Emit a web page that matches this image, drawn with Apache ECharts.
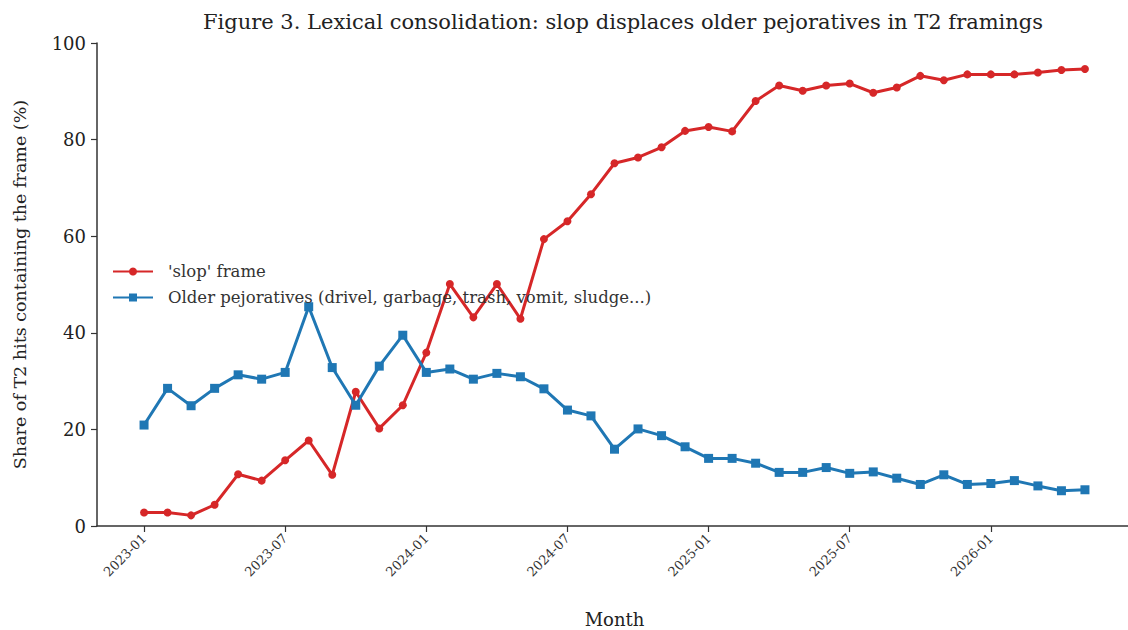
<!DOCTYPE html>
<html>
<head>
<meta charset="utf-8">
<style>
  html, body { margin: 0; padding: 0; background: #fff; }
  #chart { width: 1128px; height: 630px; }
</style>
<script src="https://cdn.jsdelivr.net/npm/echarts@6/dist/echarts.min.js"></script>
</head>
<body>
<div id="chart"></div>
<script>
const months = [
  '2023-01', '2023-02', '2023-03', '2023-04', '2023-05', '2023-06',
  '2023-07', '2023-08', '2023-09', '2023-10', '2023-11', '2023-12',
  '2024-01', '2024-02', '2024-03', '2024-04', '2024-05', '2024-06',
  '2024-07', '2024-08', '2024-09', '2024-10', '2024-11', '2024-12',
  '2025-01', '2025-02', '2025-03', '2025-04', '2025-05', '2025-06',
  '2025-07', '2025-08', '2025-09', '2025-10', '2025-11', '2025-12',
  '2026-01', '2026-02', '2026-03', '2026-04', '2026-05'
]
const slopShare = [
  2.8, 2.8, 2.2, 4.4, 10.7, 9.4, 13.6, 17.7, 10.6, 27.8, 20.2, 25.0,
  35.9, 50.1, 43.2, 50.1, 42.9, 59.4, 63.1, 68.7, 75.1, 76.3, 78.4, 81.8,
  82.6, 81.7, 88.0, 91.2, 90.1, 91.2, 91.6, 89.7, 90.8, 93.2, 92.3, 93.5,
  93.5, 93.5, 93.9, 94.4, 94.6
]
const olderShare = [
  20.9, 28.5, 24.9, 28.5, 31.3, 30.4, 31.8, 45.4, 32.8, 25.0, 33.1, 39.5,
  31.8, 32.5, 30.4, 31.6, 30.9, 28.4, 24.0, 22.8, 15.9, 20.1, 18.7, 16.4,
  14.0, 14.0, 13.0, 11.1, 11.1, 12.1, 10.9, 11.2, 9.9, 8.6, 10.6, 8.6,
  8.8, 9.4, 8.3, 7.3, 7.5
]
const tickMonths = ['2023-01', '2023-07', '2024-01', '2024-07', '2025-01', '2025-07', '2026-01']
const yTicks = [0, 20, 40, 60, 80, 100]

const serif = 'DejaVu Serif'
const axisColor = '#333'
const tickIdx = tickMonths.map(m => months.indexOf(m))

// svg renderer so the serif face gets picked up once it's available
const chart = echarts.init(document.getElementById('chart'), null, { renderer: 'svg' })

const option = {
  animation: false,
  backgroundColor: '#fff',
  textStyle: { fontFamily: serif },
  title: {
    text: 'Figure 3. Lexical consolidation: slop displaces older pejoratives in T2 framings',
    left: 618,
    textAlign: 'center',
    top: 6,
    textStyle: { fontFamily: serif, fontSize: 21, fontWeight: 'normal', color: '#222' }
  },
  legend: {
    orient: 'vertical',
    left: 107,
    top: 258,
    itemWidth: 40,
    itemHeight: 10,
    itemGap: 9,
    textStyle: { fontFamily: serif, fontSize: 16.5, color: '#333', padding: [0, 0, 0, 10] },
    data: ["'slop' frame", 'Older pejoratives (drivel, garbage, trash, vomit, sludge...)']
  },
  grid: { left: 97, top: 43, width: 1035, height: 483, outerBoundsMode: 'none' },
  xAxis: {
    type: 'value',
    min: -2,
    max: 42,
    name: 'Month',
    nameLocation: 'middle',
    nameGap: 84,
    nameTextStyle: { fontFamily: serif, fontSize: 18, color: '#222' },
    axisLine: { show: true, onZero: false, lineStyle: { color: axisColor, width: 1.5 } },
    axisTick: { show: true, customValues: tickIdx, length: 6, lineStyle: { color: axisColor, width: 1.2 } },
    axisLabel: {
      customValues: tickIdx,
      rotate: 45,
      margin: 10,
      fontFamily: serif,
      fontSize: 13,
      color: '#333',
      formatter: v => months[v]
    },
    splitLine: { show: false }
  },
  yAxis: {
    type: 'value',
    min: 0,
    max: 100,
    interval: 20,
    name: 'Share of T2 hits containing the frame (%)',
    nameLocation: 'middle',
    nameGap: 68,
    nameTextStyle: { fontFamily: serif, fontSize: 17.5, color: '#222' },
    axisLine: { show: true, onZero: false, lineStyle: { color: axisColor, width: 1.5 } },
    axisTick: { show: true, length: 6, lineStyle: { color: axisColor, width: 1.2 } },
    axisLabel: {
      fontFamily: serif,
      fontSize: 18,
      color: '#222',
      margin: 11,
      formatter: v => (yTicks.includes(v) ? String(v) : '')
    },
    splitLine: { show: false }
  },
  series: [
    {
      name: "'slop' frame",
      type: 'line',
      data: months.map((m, i) => [i, slopShare[i]]),
      symbol: 'circle',
      symbolSize: 8,
      itemStyle: { color: '#d62728' },
      lineStyle: { color: '#d62728', width: 3 }
    },
    {
      name: 'Older pejoratives (drivel, garbage, trash, vomit, sludge...)',
      type: 'line',
      data: months.map((m, i) => [i, olderShare[i]]),
      symbol: 'rect',
      symbolSize: 9,
      itemStyle: { color: '#1f77b4' },
      lineStyle: { color: '#1f77b4', width: 3 }
    }
  ]
}

chart.setOption(option)
</script>
</body>
</html>
